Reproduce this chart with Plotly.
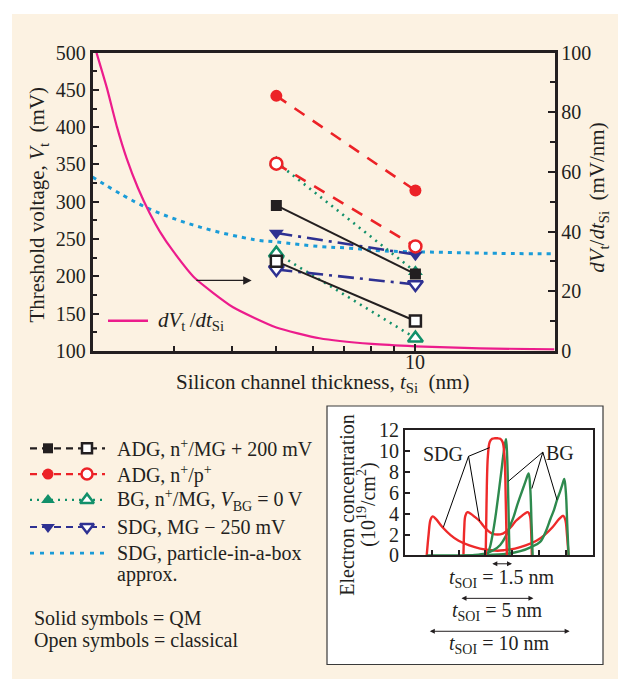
import math
import plotly.graph_objects as go

# ---------------- data ----------------
# Silicon film thickness of the simulated devices (nm)
t_si = [5, 10]

# Threshold voltage (mV); QM = solid symbols, classical = open symbols
adg_mg_qm = [295, 203]
adg_mg_cl = [220, 140]
adg_pp_qm = [442, 315]
adg_pp_cl = [351, 240]
bg_qm = [353, 206]
bg_cl = [231, 117]
sdg_mg_qm = [258, 229]
sdg_mg_cl = [209, 189]

# SDG threshold voltage from the particle-in-a-box approximation (mV)
pib_t = [2, 2.62, 3.42, 4.49, 5, 6.2, 7.2, 8.5, 10.7, 14, 20]
pib_vt = [333, 292, 266, 249, 246, 240, 237.7, 234, 232.5, 231, 230]

# Threshold-voltage sensitivity dVt/dtSi (mV/nm), right-hand axis
slope_t = [2.04, 2.15, 2.26, 2.37, 2.51, 2.66, 2.8, 2.99, 3.33, 4.03, 5.0, 6.2, 8.05, 10, 13.8, 20]
slope_val = [100, 88, 75, 64.6, 54.5, 46.1, 39.9, 33.4, 24.4, 14.6, 7.8, 4.2, 2.3, 1.5, 0.8, 0.5]

# x-axis tick
x_ticks = [10]

# Inset: electron concentration across the film (10^19 /cm^2)
sdg10_pos = [0.81, 0.88, 0.95, 1.03, 1.15, 1.4, 1.7, 2.0, 2.4, 2.8, 3.2, 3.45, 3.7, 4.1, 4.5, 4.9, 5.2, 5.5, 5.75, 5.9, 5.98, 6.04, 6.1]
sdg10_n = [0, 2.0, 3.4, 3.75, 3.5, 2.7, 1.95, 1.4, 0.95, 0.65, 0.5, 0.45, 0.5, 0.65, 0.95, 1.4, 1.95, 2.7, 3.5, 3.8, 3.4, 2.0, 0]
sdg5_pos = [2.18, 2.21, 2.25, 2.33, 2.45, 2.6, 2.78, 2.95, 3.1, 3.25, 3.45, 3.65, 3.8, 3.96, 4.13, 4.31, 4.46, 4.58, 4.66, 4.7, 4.73]
sdg5_n = [0, 2.6, 3.8, 4.15, 4.0, 3.7, 3.3, 2.75, 2.35, 2.1, 2.0, 2.1, 2.35, 2.75, 3.3, 3.7, 4.0, 4.15, 3.8, 2.6, 0]
sdg15_pos = [3.01, 3.04, 3.09, 3.16, 3.25, 3.35, 3.45, 3.55, 3.64, 3.71, 3.76, 3.8]
sdg15_n = [0, 5, 9.5, 10.9, 11.2, 11.25, 11.25, 11.2, 10.9, 9.5, 5, 0]
bg15_pos = [3.07, 3.18, 3.30, 3.40, 3.49, 3.58, 3.67, 3.73, 3.77, 3.81, 3.85, 3.88, 3.9]
bg15_n = [0, 0.9, 2.5, 4.2, 5.95, 7.8, 9.7, 10.7, 11.16, 9.5, 5.5, 2, 0]
bg5_pos = [2.18, 2.6, 3.0, 3.3, 3.55, 3.75, 3.92, 4.05, 4.17, 4.3, 4.42, 4.52, 4.61, 4.67, 4.72, 4.76]
bg5_n = [0, 0.05, 0.2, 0.5, 1.0, 1.8, 2.85, 3.7, 4.71, 5.7, 6.57, 7.3, 7.87, 6.5, 3, 0]
bg10_pos = [0.81, 2, 3, 3.8, 4.3, 4.7, 5.04, 5.25, 5.42, 5.56, 5.67, 5.78, 5.86, 5.94, 6.0, 6.05, 6.1]
bg10_n = [0, 0, 0.02, 0.15, 0.4, 0.8, 1.3, 2.3, 3.47, 4.4, 5.33, 6.1, 6.73, 7.35, 6, 3, 0]

# Film thickness arrows under the inset: start, end, label
film_spans = [(3.2, 3.99, "1.5 nm"), (2.05, 4.79, "5 nm"), (0.87, 6.14, "10 nm")]

# ---------------- styling ----------------
W, H = 618, 690
FONT = "Liberation Serif"
INK = "#231f20"
CREAM = "#fcf2e2"
BLACK = "#231f20"
RED = "#ec2227"
GREEN = "#12906a"
NAVY = "#2e3192"
CYAN = "#1a9cd8"
MAGENTA = "#ec1c8c"
INSET_RED = "#ee2a2a"
INSET_GREEN = "#2e8a4e"
FS = 20


def px(x):
    return x / W


def py(y):
    return 1 - y / H


fig = go.Figure()

# ---- main panel ----
fig.add_trace(go.Scatter(x=pib_t, y=pib_vt, mode="lines",
                         line=dict(color=CYAN, width=3, dash="4px,5px", shape="spline")))
fig.add_trace(go.Scatter(x=slope_t, y=slope_val, mode="lines", yaxis="y2",
                         line=dict(color=MAGENTA, width=2.2, shape="spline", smoothing=0.5)))


def series(qm, cl, color, dash, width, sym, msize):
    fig.add_trace(go.Scatter(x=t_si, y=qm, mode="lines+markers",
                             line=dict(color=color, width=width, dash=dash),
                             marker=dict(symbol=sym, size=msize, color=color)))
    fig.add_trace(go.Scatter(x=t_si, y=cl, mode="lines+markers",
                             line=dict(color=color, width=width, dash=dash),
                             marker=dict(symbol=sym, size=msize, color="white",
                                         line=dict(color=color, width=2.5))))


series(bg_qm, bg_cl, GREEN, "2px,5px", 2.6, "triangle-up", 13)
series(sdg_mg_qm, sdg_mg_cl, NAVY, "16px,6px,3px,6px", 2.6, "triangle-down", 13)
series(adg_mg_qm, adg_mg_cl, BLACK, "solid", 2.0, "square", 11)
series(adg_pp_qm, adg_pp_cl, RED, "12px,10px", 2.6, "circle", 12)

# ---- inset ----
for xs, ys, c in [(sdg10_pos, sdg10_n, INSET_RED), (sdg5_pos, sdg5_n, INSET_RED),
                  (bg10_pos, bg10_n, INSET_GREEN), (bg5_pos, bg5_n, INSET_GREEN),
                  (bg15_pos, bg15_n, INSET_GREEN), (sdg15_pos, sdg15_n, INSET_RED)]:
    fig.add_trace(go.Scatter(x=xs, y=ys, mode="lines", xaxis="x3", yaxis="y3",
                             line=dict(color=c, width=2.4), line_shape="spline"))

# ---- legend samples (overlay axes in pixel units) ----
legend_rows = [451.7, 478.3, 505, 533, 560]
legend_styles = [
    (BLACK, "7px,5px", 2.2, "square", 10),
    (RED, "7px,5px", 2.2, "circle", 11),
    (GREEN, "2px,5px", 2.4, "triangle-up", 12),
    (NAVY, "7px,5px", 2.2, "triangle-down", 12),
]
for row, (c, dash, w, sym, ms) in zip(legend_rows, legend_styles):
    fig.add_trace(go.Scatter(x=[30, 105], y=[row, row], mode="lines", xaxis="x4", yaxis="y4",
                             line=dict(color=c, width=w, dash=dash)))
    fig.add_trace(go.Scatter(x=[48], y=[row], mode="markers", xaxis="x4", yaxis="y4",
                             marker=dict(symbol=sym, size=ms, color=c)))
    fig.add_trace(go.Scatter(x=[87], y=[row], mode="markers", xaxis="x4", yaxis="y4",
                             marker=dict(symbol=sym, size=ms, color="white",
                                         line=dict(color=c, width=2.5))))
fig.add_trace(go.Scatter(x=[30, 105], y=[legend_rows[4]] * 2, mode="lines", xaxis="x4", yaxis="y4",
                         line=dict(color=CYAN, width=2.6, dash="4px,6px")))
fig.add_trace(go.Scatter(x=[108, 148], y=[320, 320], mode="lines", xaxis="x4", yaxis="y4",
                         line=dict(color=MAGENTA, width=2.4)))

tick_font = dict(family=FONT, size=FS, color=INK)
axis_common = dict(showgrid=False, zeroline=False, showline=True, linecolor=INK,
                   linewidth=2.5, ticks="inside", tickcolor=INK, tickwidth=1.5,
                   tickfont=tick_font)

fig.update_layout(
    width=W, height=H,
    margin=dict(l=0, r=0, t=0, b=0),
    paper_bgcolor="white",
    plot_bgcolor="rgba(0,0,0,0)",
    showlegend=False,
    font=dict(family=FONT, color=INK, size=FS),
    xaxis=dict(type="log", range=[math.log10(2), math.log10(20)],
               domain=[px(92.5), px(554.5)], anchor="y", mirror=True,
               tickvals=x_ticks, showticklabels=False, ticklen=7,
               minor=dict(tickvals=[3, 4, 5, 6, 7, 8, 9], ticks="inside", ticklen=5,
                          tickcolor=INK, tickwidth=1.5),
               **axis_common),
    yaxis=dict(range=[100, 500], domain=[py(351), py(43)], anchor="x", mirror=True,
               dtick=50, ticklen=7,
               minor=dict(dtick=25, ticks="inside", ticklen=5, tickcolor=INK, tickwidth=1.5),
               **axis_common),
    yaxis2=dict(range=[0, 100], overlaying="y", side="right", anchor="x",
                dtick=20, ticklen=7,
                minor=dict(dtick=10, ticks="inside", ticklen=5, tickcolor=INK, tickwidth=1.5),
                **axis_common),
    xaxis3=dict(range=[0, 7], domain=[px(405), px(592.7)], anchor="y3", mirror=True,
                tickvals=[1, 2, 3, 4, 5, 6], showticklabels=False, ticklen=5,
                **{**axis_common, "linewidth": 2.2}),
    yaxis3=dict(range=[0, 12], domain=[py(562.3), py(433.3)], anchor="x3", mirror=True,
                dtick=2, ticklen=5,
                **{**axis_common, "linewidth": 2.2}),
    xaxis4=dict(range=[0, W], domain=[0, 1], anchor="y4", visible=False, fixedrange=True),
    yaxis4=dict(range=[H, 0], domain=[0, 1], anchor="x4", visible=False, fixedrange=True),
)

# background panel and inset frame
fig.add_shape(type="rect", xref="paper", yref="paper", x0=px(12), x1=1, y0=0, y1=py(3),
              fillcolor=CREAM, line=dict(width=0), layer="below")
fig.add_shape(type="rect", xref="paper", yref="paper", x0=px(327), x1=px(603), y0=py(675), y1=py(408),
              fillcolor="white", line=dict(color="#3a3a3a", width=1.2), layer="below")

# inset leader lines
for x0, y0, x1, y1 in [(2.37, 9.52, 1.43, 2.7), (2.37, 9.52, 2.78, 3.3), (2.37, 9.52, 3.15, 10.35),
                       (5.14, 9.92, 3.86, 7.13), (5.14, 9.92, 4.73, 6.42), (5.14, 9.92, 5.67, 5.33)]:
    fig.add_shape(type="line", xref="x3", yref="y3", x0=x0, y0=y0, x1=x1, y1=y1,
                  line=dict(color="black", width=1))


def text(x, y, s, size=FS, anchor="left", angle=0, xref="paper", yref="paper"):
    fig.add_annotation(x=x, y=y, xref=xref, yref=yref, text=s, showarrow=False,
                       xanchor=anchor, yanchor="middle", textangle=angle,
                       font=dict(family=FONT, size=size, color=INK))


# x tick label, sitting just under the axis line
for t in x_ticks:
    text(math.log10(t), py(363), str(t), anchor="center", xref="x")

# axis titles
text(px(323), py(384), "Silicon channel thickness, <i>t</i><sub>Si</sub>\u00a0\u00a0(nm)", size=21, anchor="center")
text(px(38), py(200), "Threshold voltage, <i>V</i><sub>t</sub>\u00a0\u00a0(mV)", size=21, anchor="center", angle=-90)
text(px(598), py(193), "<i>dV</i><sub>t</sub>/<i>dt</i><sub>Si</sub>\u00a0\u00a0(mV/nm)", size=21, anchor="center", angle=-90)

# in-plot key for the sensitivity curve
text(px(156), py(320), "<i>dV</i><sub>t</sub>\u2009/<i>dt</i><sub>Si</sub>", size=21)

# arrow pointing to the right-hand axis
fig.add_annotation(x=math.log10(4.42), y=194.4, ax=math.log10(3.33), ay=194.4,
                   xref="x", yref="y", axref="x", ayref="y", text="", showarrow=True,
                   arrowhead=2, arrowsize=1.4, arrowwidth=1.2, arrowcolor=INK)

# legend labels
legend_labels = [
    "ADG, n<sup>+</sup>/MG + 200 mV",
    "ADG, n<sup>+</sup>/p<sup>+</sup>",
    "BG, n<sup>+</sup>/MG, <i>V</i><sub>BG</sub> = 0 V",
    "SDG, MG \u2212 250 mV",
    "SDG, particle-in-a-box",
]
for row, label in zip(legend_rows, legend_labels):
    text(px(115), py(row), label)
text(px(115), py(582), "approx.")
text(px(32), py(627), "Solid symbols = QM")
text(px(32), py(650), "Open symbols = classical")

# inset labels
text(1.43, 9.73, "SDG", anchor="center", xref="x3", yref="y3")
text(5.79, 9.82, "BG", anchor="center", xref="x3", yref="y3")
text(px(347), py(510), "Electron concentration", anchor="center", angle=-90)
text(px(367), py(510), "(10<sup>19</sup>/cm<sup>2</sup>)", anchor="center", angle=-90)

# film-thickness arrows under the inset
for (x0, x1, lab), ya, yt in zip(film_spans, [571, 606.7, 640.7], [586, 620, 654]):
    fig.add_annotation(x=x1, y=py(ya), ax=x0, ay=0, xref="x3", yref="paper", axref="x3", ayref="pixel",
                       text="", showarrow=True, arrowhead=2, arrowside="end+start",
                       arrowsize=1, arrowwidth=1, arrowcolor=INK)
    text((x0 + x1) / 2, py(yt), "<i>t</i><sub>SOI</sub> = " + lab, anchor="center", xref="x3")

fig.write_html("out.html")
